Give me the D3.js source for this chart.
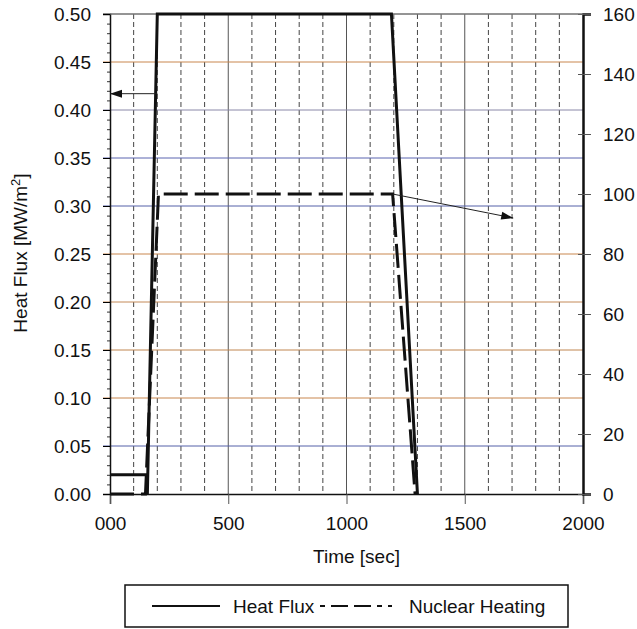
<!DOCTYPE html>
<html lang="en">
    <head>
        <meta charset="utf-8">
        <style type="text/css">
            body { margin: 0; background: #fff; }
            text { font-family: "Liberation Sans", Arial, sans-serif; fill: #111; }
            .minor { stroke: #444; stroke-width: 1px; stroke-dasharray: 5,3; }
            .major { stroke: #555; stroke-width: 1px; }
        </style>
    </head>
    <body>
        <svg width="637" height="629"></svg>

        <script src="https://cdn.jsdelivr.net/npm/d3@7"></script>
        <script>
            // axes
            var timeTicks = [0, 500, 1000, 1500, 2000];
            var timeTickLabels = ["000", "500", "1000", "1500", "2000"];
            var timeGrid = [100, 200, 300, 400, 600, 700, 800, 900, 1100, 1200, 1300, 1400, 1600, 1700, 1800, 1900];
            var fluxTicks = [0, 0.05, 0.10, 0.15, 0.20, 0.25, 0.30, 0.35, 0.40, 0.45, 0.50];
            var fluxGridColors = ["#000", "#5560a8", "#c9874e", "#c08650", "#c48a58", "#c9874e", "#5560a8", "#5a64b0", "#8a88a8", "#c9874e", "#666"];
            var heatingTicks = [0, 20, 40, 60, 80, 100, 120, 140, 160];

            // series
            var heatFluxTime  = [0, 155, 158, 200, 1190, 1300];
            var heatFluxValue = [0.02, 0.02, 0, 0.50, 0.50, 0];
            var nuclearTime   = [0, 150, 205, 1195, 1290];
            var nuclearValue  = [0, 0, 100, 100, 0];

            // annotation arrows (data coords)
            var leftArrow  = {from: [200, 0.417], to: [0, 0.417]};
            var rightArrow = {from: [1195, 100], to: [1705, 92]};

            var FONT = "Liberation Sans, Arial, sans-serif";
            var svg = d3.select("svg");
            var pLeft = 110, pRight = 583, pTop = 14, pBottom = 494;

            var x = d3.scaleLinear().domain([0, 2000]).range([pLeft, pRight]);
            var yL = d3.scaleLinear().domain([0, 0.5]).range([pBottom, pTop]);
            var yR = d3.scaleLinear().domain([0, 160]).range([pBottom, pTop]);

            svg.append('defs').append('marker')
                .attr('id', 'arrowhead')
                .attr('viewBox', '0 -5 12 10')
                .attr('refX', 12)
                .attr('refY', 0)
                .attr('orient', 'auto')
                .attr('markerUnits', 'userSpaceOnUse')
                .attr('markerWidth', 14)
                .attr('markerHeight', 10)
                .append('path')
                .attr('d', 'M 0,-4 L 12,0 L 0,4 Z')
                .attr('fill', '#111');

            // vertical grid
            svg.selectAll(".minor")
                .data(timeGrid)
                .enter().append("line")
                .attr("class", "minor")
                .attr("x1", function (d) {return x(d);})
                .attr("x2", function (d) {return x(d);})
                .attr("y1", pTop).attr("y2", pBottom);

            svg.selectAll(".major")
                .data([500, 1000, 1500])
                .enter().append("line")
                .attr("class", "major")
                .attr("x1", function (d) {return x(d);})
                .attr("x2", function (d) {return x(d);})
                .attr("y1", pTop).attr("y2", pBottom);

            // horizontal grid
            svg.selectAll(".hgrid")
                .data(fluxTicks.slice(1))
                .enter().append("line")
                .attr("class", "hgrid")
                .attr("x1", pLeft - 7).attr("x2", pRight)
                .attr("y1", function (d) {return yL(d);})
                .attr("y2", function (d) {return yL(d);})
                .attr("stroke", function (d, i) {return fluxGridColors[i + 1];})
                .attr("stroke-width", 1);

            // left axis
            var axL = svg.append("g").attr("transform", "translate(" + pLeft + ",0)")
                .call(d3.axisLeft(yL).tickValues(d3.range(0, 0.501, 0.01)).tickSize(3).tickFormat(""));
            axL.select(".domain").remove();
            axL.selectAll("line").attr("stroke", "#333");
            svg.append("g").attr("transform", "translate(" + pLeft + ",0)")
                .call(d3.axisLeft(yL).tickValues(fluxTicks).tickSize(7).tickPadding(12).tickFormat(d3.format(".2f")))
                .call(function (g) {
                    g.select(".domain").attr("stroke", "#111").attr("stroke-width", 1.5);
                    g.selectAll("text").attr("font-size", 19).attr("font-family", FONT).attr("fill", "#111");
                });

            // bottom axis
            svg.append("g").attr("transform", "translate(0," + pBottom + ")")
                .call(d3.axisBottom(x).tickValues(timeTicks).tickSize(10).tickPadding(13)
                    .tickFormat(function (d, i) {return timeTickLabels[i];}))
                .call(function (g) {
                    g.select(".domain").attr("stroke", "#111").attr("stroke-width", 1.5);
                    g.selectAll("line").attr("stroke", "#555");
                    g.selectAll("text").attr("font-size", 19).attr("font-family", FONT).attr("fill", "#111");
                });

            // right axis
            svg.append("g").attr("transform", "translate(" + pRight + ",0)")
                .call(d3.axisRight(yR).tickValues(heatingTicks).tickSize(8).tickPadding(12))
                .call(function (g) {
                    g.select(".domain").attr("stroke", "#111").attr("stroke-width", 2.5);
                    g.selectAll(".tick line").attr("x1", -5).attr("stroke", "#555");
                    g.selectAll("text").attr("font-size", 19).attr("font-family", FONT).attr("fill", "#111");
                });

            // top border
            svg.append("line")
                .attr("x1", pLeft).attr("x2", pRight)
                .attr("y1", yL(0.5)).attr("y2", yL(0.5))
                .attr("stroke", "#777").attr("stroke-width", 1);

            // series lines
            var fluxLine = d3.line()
                .x(function (d) {return x(d[0]);})
                .y(function (d) {return yL(d[1]);});
            var nucLine = d3.line()
                .x(function (d) {return x(d[0]);})
                .y(function (d) {return yR(d[1]);});

            svg.append("path")
                .datum(nuclearTime.map(function (t, i) {return [t, nuclearValue[i]];}))
                .attr("d", nucLine)
                .attr("fill", "none")
                .attr("stroke", "#111")
                .attr("stroke-width", 3)
                .attr("stroke-dasharray", "24,7");

            svg.append("path")
                .datum(heatFluxTime.map(function (t, i) {return [t, heatFluxValue[i]];}))
                .attr("d", fluxLine)
                .attr("fill", "none")
                .attr("stroke", "#111")
                .attr("stroke-width", 3);

            // arrows
            svg.append("line")
                .attr("x1", x(leftArrow.from[0])).attr("y1", yL(leftArrow.from[1]))
                .attr("x2", x(leftArrow.to[0])).attr("y2", yL(leftArrow.to[1]))
                .attr("stroke", "#222").attr("stroke-width", 1)
                .attr("marker-end", "url(#arrowhead)");
            svg.append("line")
                .attr("x1", x(rightArrow.from[0])).attr("y1", yR(rightArrow.from[1]))
                .attr("x2", x(rightArrow.to[0])).attr("y2", yR(rightArrow.to[1]))
                .attr("stroke", "#222").attr("stroke-width", 1)
                .attr("marker-end", "url(#arrowhead)");

            // axis titles
            svg.append("text")
                .attr("x", x(1000) + 10).attr("y", 563)
                .attr("text-anchor", "middle")
                .attr("font-size", 19)
                .text("Time [sec]");

            var yt = svg.append("text")
                .attr("transform", "translate(27," + (yL(0.25) - 1) + ") rotate(-90)")
                .attr("text-anchor", "middle")
                .attr("font-size", 19);
            yt.append("tspan").text("Heat Flux [MW/m");
            yt.append("tspan").attr("dy", -7).attr("font-size", 13).text("2");
            yt.append("tspan").attr("dy", 7).text("]");

            // legend
            var lg = svg.append("g");
            lg.append("rect")
                .attr("x", 125).attr("y", 585).attr("width", 443).attr("height", 42)
                .attr("fill", "#fff").attr("stroke", "#111").attr("stroke-width", 1.5);
            lg.append("line")
                .attr("x1", 152).attr("x2", 220).attr("y1", 606).attr("y2", 606)
                .attr("stroke", "#111").attr("stroke-width", 2);
            lg.append("text").attr("x", 233).attr("y", 613).attr("font-size", 19).text("Heat Flux");
            lg.append("line")
                .attr("x1", 320).attr("x2", 392).attr("y1", 606).attr("y2", 606)
                .attr("stroke", "#111").attr("stroke-width", 2)
                .attr("stroke-dasharray", "5,6,17,6,17,6");
            lg.append("text").attr("x", 409).attr("y", 613).attr("font-size", 19).text("Nuclear Heating");
        </script>
    </body>
</html>
